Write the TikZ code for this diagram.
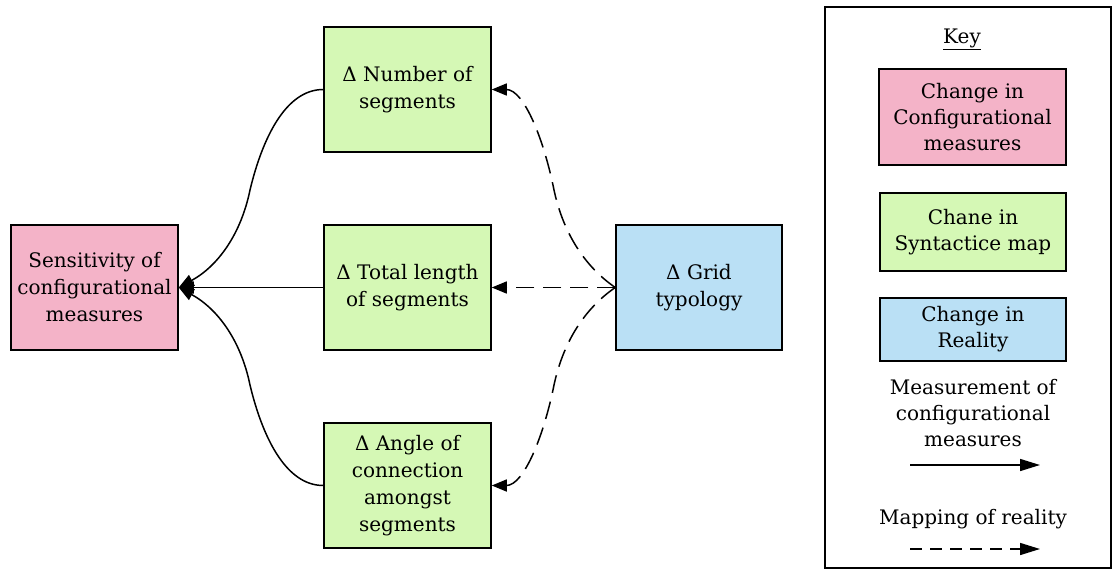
\documentclass[tikz,border=0pt]{standalone}
\usepackage{fontspec}
\setmainfont{DejaVu Serif}
\usetikzlibrary{arrows.meta}
\definecolor{pinkfill}{HTML}{F4B3C8}
\definecolor{greenfill}{HTML}{D5F8B5}
\definecolor{bluefill}{HTML}{BAE0F5}
\begin{document}
\begin{tikzpicture}[x=1pt,y=-1pt,
  txt/.style={align=center, inner sep=0pt, font=\fontsize{20}{27}\selectfont},
  box/.style={txt, draw=black, line width=1.5pt, minimum width=167pt, minimum height=125pt},
  keybox/.style={txt, draw=black, line width=1.5pt, minimum width=187pt, font=\fontsize{20}{26}\selectfont},
  tip/.style={-{Triangle[length=15pt,width=12pt]}},
  keytip/.style={-{Triangle[length=20pt,width=12pt]}},
  meas/.style={tip, line width=1.5pt},
  mapping/.style={tip, line width=1.5pt, dash pattern=on 18pt off 9pt},
]
\useasboundingbox (0,0) rectangle (1113,570);

% main diagram
\node[box, fill=pinkfill]  (sens) at (94.5,287.5)  {Sensitivity of\\configurational\\measures};
\node[box, fill=greenfill] (num)  at (407.5,89.5)  {Δ Number of\\segments};
\node[box, fill=greenfill] (len)  at (407.5,287.5) {Δ Total length\\of segments};
\node[box, fill=greenfill] (ang)  at (407.5,485.5) {Δ Angle of\\connection\\amongst\\segments};
\node[box, fill=bluefill, minimum width=166pt] (grid) at (699,287.5) {Δ Grid\\typology};

% measurement links
\draw[meas] (num.west) .. controls (285,89.5) and (262,140) .. (250,190)
                       .. controls (241,234) and (218,266) .. (sens.east);
\draw[meas] (len.west) -- (sens.east);
\draw[meas] (ang.west) .. controls (285,485.5) and (262,435) .. (250,385)
                       .. controls (241,341) and (218,309) .. (sens.east);

% mapping links
\draw[mapping] (grid.west) .. controls (584,266) and (563,232) .. (554,190)
                           .. controls (544,140) and (524,89.5) .. (num.east);
\draw[mapping] (grid.west) -- (len.east);
\draw[mapping] (grid.west) .. controls (584,309) and (563,343) .. (554,385)
                           .. controls (544,435) and (524,485.5) .. (ang.east);

% key
\node[draw=black, line width=1.5pt, minimum width=286pt, minimum height=561pt, inner sep=0pt] (keyframe) at (968,287.5) {};
\node[txt] (keytitle) at (962,39) {\underline{Key}};
\node[keybox, fill=pinkfill, minimum height=96pt] (kpink) at (972.5,117) {Change in\\Configurational\\measures};
\node[keybox, fill=greenfill, minimum width=186pt, minimum height=78pt] (kgreen) at (973,232) {Chane in\\Syntactice map};
\node[keybox, fill=bluefill, minimum width=186pt, minimum height=63pt] (kblue) at (973,329.5) {Change in\\Reality};
\node[txt, font=\fontsize{20}{26}\selectfont] (kmeas) at (973,413) {Measurement of\\configurational\\measures};
\coordinate (m1) at (910,465);
\coordinate (m2) at (1040,465);
\draw[keytip, line width=1.5pt] (m1) -- (m2);
\node[txt] (kmap) at (973,519) {Mapping of reality};
\coordinate (d1) at (910,549);
\coordinate (d2) at (1040,549);
\draw[keytip, line width=1.5pt, dash pattern=on 12pt off 8pt] (d1) -- (d2);
\end{tikzpicture}
\end{document}
